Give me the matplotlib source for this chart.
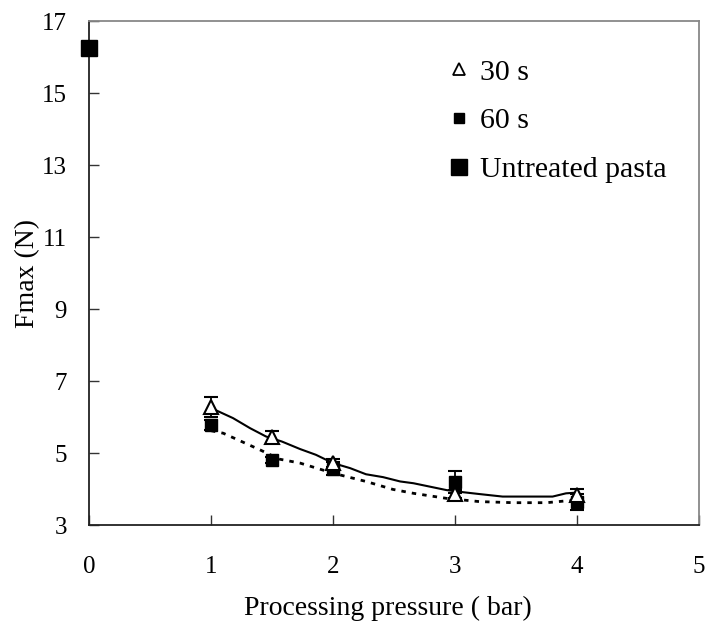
import numpy as np
import matplotlib
matplotlib.use("Agg")
import matplotlib.pyplot as plt
from matplotlib.lines import Line2D

plt.rcParams['font.family'] = ['Liberation Serif', 'DejaVu Serif']

pressure = [1, 1.5, 2, 3, 4]
f30 = [6.28, 5.45, 4.73, 3.86, 3.84]
e30 = [0.27, 0.17, 0.11, 0.10, 0.15]
f60 = [5.78, 4.81, 4.56, 4.20, 3.64]
e60 = [0.13, 0.08, 0.18, 0.30, 0.22]
untreated_x = [0]
untreated_y = [16.25]

# trend lines as drawn in the reference
trend30_x = [1.0, 1.18, 1.32, 1.45, 1.58, 1.73, 1.86, 2.0, 2.14, 2.27, 2.41, 2.55,
             2.66, 2.93, 3.07, 3.2, 3.39, 3.61, 3.8, 3.91, 4.0]
trend30_y = [6.25, 5.97, 5.69, 5.46, 5.32, 5.11, 4.95, 4.72, 4.58, 4.41, 4.33, 4.21,
             4.16, 3.97, 3.91, 3.86, 3.79, 3.79, 3.79, 3.88, 3.9]
trend60_x = [1.0, 1.1, 1.4, 1.56, 1.73, 2.0, 2.27, 2.49, 2.66, 2.93, 3.2, 3.48,
             3.75, 3.91, 4.02]
trend60_y = [5.62, 5.55, 5.09, 4.83, 4.72, 4.44, 4.21, 3.99, 3.88, 3.74, 3.65, 3.62,
             3.62, 3.67, 3.68]

fig = plt.figure(figsize=(7.10, 6.33), dpi=100)
ax = fig.add_axes([0.1254, 0.1706, 0.8591, 0.7962])

ax.plot(trend30_x, trend30_y, color='black', lw=1.5, zorder=2)
ax.plot(trend60_x, trend60_y, color='black', lw=2.0, ls=(0, (1.6, 2.2)), zorder=2)

ax.errorbar(pressure, f30, yerr=e30, fmt='^', ms=10, mfc='white', mec='black',
            mew=1.5, ecolor='black', elinewidth=1.3, capsize=5, capthick=1.5, zorder=4)
ax.errorbar(pressure, f60, yerr=e60, fmt='s', ms=8.5, mfc='black', mec='black',
            ecolor='black', elinewidth=1.3, capsize=5, capthick=1.5, zorder=3)
ax.plot(untreated_x, untreated_y, 's', ms=12, color='black', clip_on=False, zorder=5)

ax.set_xlim(0, 5)
ax.set_ylim(3, 17)
ax.set_xticks([0, 1, 2, 3, 4, 5])
ax.set_yticks([3, 5, 7, 9, 11, 13, 15, 17])
ax.tick_params(direction='in', length=7, width=1, labelsize=18, color='#333333')
ax.tick_params(axis='y', pad=16)
ax.tick_params(axis='x', pad=22)

for s in ['left', 'bottom']:
    ax.spines[s].set_color('#222222')
    ax.spines[s].set_linewidth(1.3)
for s in ['top', 'right']:
    ax.spines[s].set_color('#888888')
    ax.spines[s].set_linewidth(1.3)

ax.set_xlabel('Processing pressure ( bar)', fontsize=20)
ax.set_ylabel('Fmax (N)', fontsize=20)
ax.xaxis.set_label_coords(0.49, -0.14)
ax.yaxis.set_label_coords(-0.080, 0.5)

handles = [
    Line2D([], [], ls='none', marker='^', ms=8, mfc='white', mec='black', mew=1.3),
    Line2D([], [], ls='none', marker='s', ms=7, color='black'),
    Line2D([], [], ls='none', marker='s', ms=12, color='black'),
]
ax.legend(handles, ['30 s', '60 s', 'Untreated pasta'], loc='upper left',
          bbox_to_anchor=(0.585, 0.925), frameon=False, fontsize=21.5,
          handlelength=0.9, handletextpad=0.25, labelspacing=0.73,
          borderpad=0, borderaxespad=0)

fig.savefig('out.png', dpi=100)
